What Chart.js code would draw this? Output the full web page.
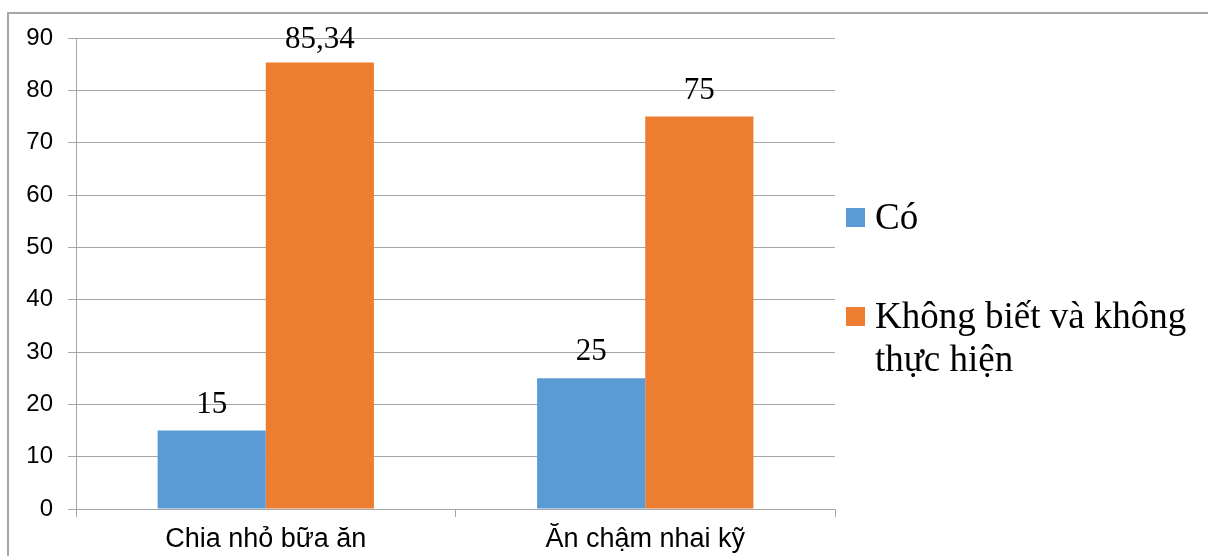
<!DOCTYPE html>
<html>
<head>
<meta charset="utf-8">
<script src="https://cdn.jsdelivr.net/npm/chart.js@4"></script>
<style>
  html, body { margin: 0; padding: 0; background: #fff; }
  #wrap { position: relative; width: 1208px; height: 556px; overflow: hidden; }
  /* grey frame round the chart, it runs off the right and bottom edge */
  #frame { position: absolute; left: 7px; top: 12px; width: 1300px; height: 700px;
           border-left: 2px solid #a6a6a6; border-top: 2px solid #a6a6a6; }
  #myChart { position: absolute; left: 0; top: 0; }
</style>
</head>
<body>
<div id="wrap">
  <div id="frame"></div>
  <canvas id="myChart" width="1208" height="556"></canvas>
</div>
<script>
// categories on the x axis
var categories = ['Chia nhỏ bữa ăn', 'Ăn chậm nhai kỹ']
// series
var seriesNames = ['Có', 'Không biết và không thực hiện']
var coValues = [15, 25]
var khongValues = [85.34, 75]
var seriesColors = ['#5b9bd5', '#ed7d31']
// y axis
var yMin = 0
var yMax = 90
var yStep = 10

var GRID = '#a6a6a6'

// value labels above every bar (serif, like the original)
var valueLabels = {
  id: 'valueLabels',
  afterDatasetsDraw: function(chart) {
    var ctx = chart.ctx
    ctx.save()
    ctx.font = '31px "Liberation Serif", "Times New Roman", serif'
    ctx.fillStyle = '#000'
    ctx.textAlign = 'center'
    ctx.textBaseline = 'alphabetic'
    chart.data.datasets.forEach(function(ds, i) {
      chart.getDatasetMeta(i).data.forEach(function(bar, j) {
        var txt = String(ds.data[j]).replace('.', ',')
        // keep the label inside the plot area, like Excel does
        var y = Math.max(bar.y - 18, chart.chartArea.top + 10)
        ctx.fillText(txt, bar.x, y)
      })
    })
    ctx.restore()
  }
}

// legend on the right, text wraps onto a second line
var sideLegend = {
  id: 'sideLegend',
  afterDraw: function(chart) {
    var ctx = chart.ctx
    var x0 = 846
    var tops = [208, 307]
    var maxW = 1205 - 875
    ctx.save()
    ctx.font = '37px "Liberation Serif", "Times New Roman", serif'
    ctx.textBaseline = 'alphabetic'
    ctx.textAlign = 'left'
    chart.data.datasets.forEach(function(ds, i) {
      var top = tops[i]
      ctx.fillStyle = ds.backgroundColor
      ctx.fillRect(x0, top, 19, 19)
      // simple word wrap
      var words = ds.label.split(' ')
      var lines = []
      var line = ''
      words.forEach(function(w) {
        var test = line ? line + ' ' + w : w
        if (ctx.measureText(test).width > maxW && line) {
          lines.push(line)
          line = w
        } else {
          line = test
        }
      })
      lines.push(line)
      ctx.fillStyle = '#000'
      lines.forEach(function(l, k) {
        ctx.fillText(l, 875, top + 21 + k * 43)
      })
    })
    ctx.restore()
  }
}

var ctx = document.getElementById('myChart').getContext('2d')
var chart = new Chart(ctx, {
  type: 'bar',
  data: {
    labels: categories,
    datasets: [{
      label: seriesNames[0],
      data: coValues,
      backgroundColor: seriesColors[0]
    }, {
      label: seriesNames[1],
      data: khongValues,
      backgroundColor: seriesColors[1]
    }]
  },
  options: {
    responsive: false,
    animation: false,
    layout: { padding: { left: 0, top: 38, right: 373, bottom: 0 } },
    datasets: {
      bar: { categoryPercentage: 0.57, barPercentage: 1.0 }
    },
    plugins: {
      legend: { display: false },
      tooltip: { enabled: false }
    },
    scales: {
      x: {
        afterFit: function(s) { s.height = 47 },
        grid: {
          offset: true,
          drawOnChartArea: false,
          drawTicks: true,
          tickLength: 8,
          color: GRID
        },
        border: { color: GRID, width: 1 },
        ticks: {
          color: '#000',
          padding: 6,
          font: { family: '"Liberation Sans", Arial, sans-serif', size: 27 }
        }
      },
      y: {
        min: yMin,
        max: yMax,
        afterFit: function(s) { s.width = 76 },
        grid: {
          color: GRID,
          drawTicks: true,
          tickLength: 8
        },
        border: { color: GRID, width: 1 },
        ticks: {
          stepSize: yStep,
          color: '#000',
          padding: 15,
          font: { family: '"Liberation Sans", Arial, sans-serif', size: 24 }
        }
      }
    }
  },
  plugins: [valueLabels, sideLegend]
})
</script>
</body>
</html>
